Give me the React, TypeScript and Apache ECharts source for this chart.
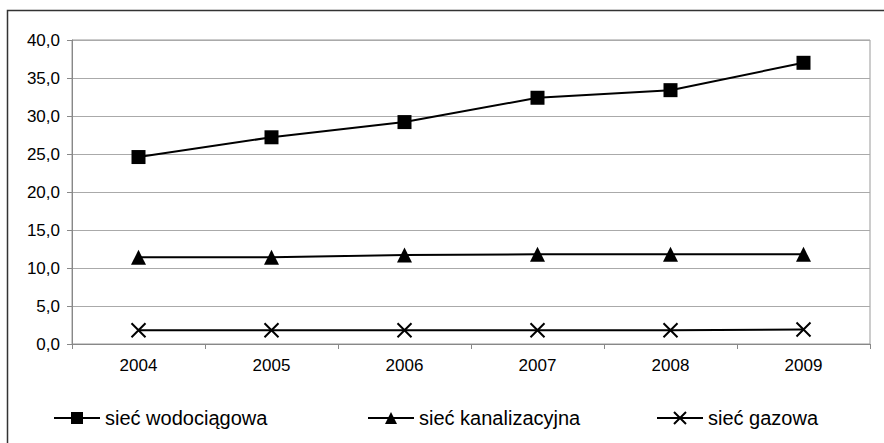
import React, { useEffect, useRef } from "react";
import * as echarts from "echarts";

const years = ["2004", "2005", "2006", "2007", "2008", "2009"];
const wodociagowa = [24.6, 27.2, 29.2, 32.4, 33.4, 37.0];
const kanalizacyjna = [11.4, 11.4, 11.7, 11.8, 11.8, 11.8];
const gazowa = [1.8, 1.8, 1.8, 1.8, 1.8, 1.9];
const seriesNames = ["sieć wodociągowa", "sieć kanalizacyjna", "sieć gazowa"];
const legendLefts = [48, 362, 651];

const FONT = "'Liberation Sans', Arial, sans-serif";
const CROSS = "path://M0,0L10,10M10,0L0,10";

export default function App() {
  const ref = useRef<HTMLDivElement>(null);
  useEffect(() => {
    if (!ref.current) return;
    const chart = echarts.init(ref.current, undefined, { renderer: "svg" });
    const lineStyle = { color: "#000", width: 2 };
    chart.setOption({
      animation: false,
      backgroundColor: "#fff",
      textStyle: { fontFamily: FONT },
      graphic: [
        {
          type: "rect",
          shape: { x: 7.5, y: 10.5, width: 1000, height: 1000 },
          style: { fill: "none", stroke: "#333", lineWidth: 1.5 },
          silent: true,
        },
      ],
      grid: {
        left: 72,
        right: 14,
        top: 40,
        bottom: 99,
        show: true,
        borderColor: "#999",
        borderWidth: 1,
        backgroundColor: "transparent",
      },
      xAxis: {
        type: "category",
        data: years,
        boundaryGap: true,
        axisLine: { lineStyle: { color: "#888", width: 1 } },
        axisTick: { show: true, length: 5, alignWithLabel: false, lineStyle: { color: "#888" } },
        axisLabel: { color: "#000", fontSize: 17, margin: 13, fontFamily: FONT },
        splitLine: { show: false },
      },
      yAxis: {
        type: "value",
        min: 0,
        max: 40,
        interval: 5,
        axisLine: { show: true, lineStyle: { color: "#888", width: 1 } },
        axisTick: { show: true, length: 5, lineStyle: { color: "#888" } },
        axisLabel: {
          color: "#000",
          fontSize: 17,
          margin: 12,
          fontFamily: FONT,
          formatter: (v: number) => v.toFixed(1).replace(".", ","),
        },
        splitLine: { show: true, lineStyle: { color: "#aaa", width: 1 } },
      },
      legend: seriesNames.map((name, i) => ({
        top: 403,
        left: legendLefts[i],
        itemWidth: 46,
        itemHeight: 15,
        itemGap: 5,
        textStyle: { color: "#000", fontSize: 20, fontFamily: FONT },
        data: [name],
      })),
      series: [
        {
          name: seriesNames[0],
          type: "line",
          data: wodociagowa,
          symbol: "rect",
          symbolSize: 14,
          lineStyle,
          itemStyle: { color: "#000" },
        },
        {
          name: seriesNames[1],
          type: "line",
          data: kanalizacyjna,
          symbol: "triangle",
          symbolSize: 15,
          lineStyle,
          itemStyle: { color: "#000" },
        },
        {
          name: seriesNames[2],
          type: "line",
          data: gazowa,
          symbol: CROSS,
          symbolSize: 14,
          lineStyle,
          itemStyle: { color: "#000", borderColor: "#000", borderWidth: 2 },
        },
      ],
    });
    return () => chart.dispose();
  }, []);
  return (
    <div
      ref={ref}
      style={{ position: "fixed", left: 0, top: 0, width: 884, height: 443 }}
    />
  );
}
